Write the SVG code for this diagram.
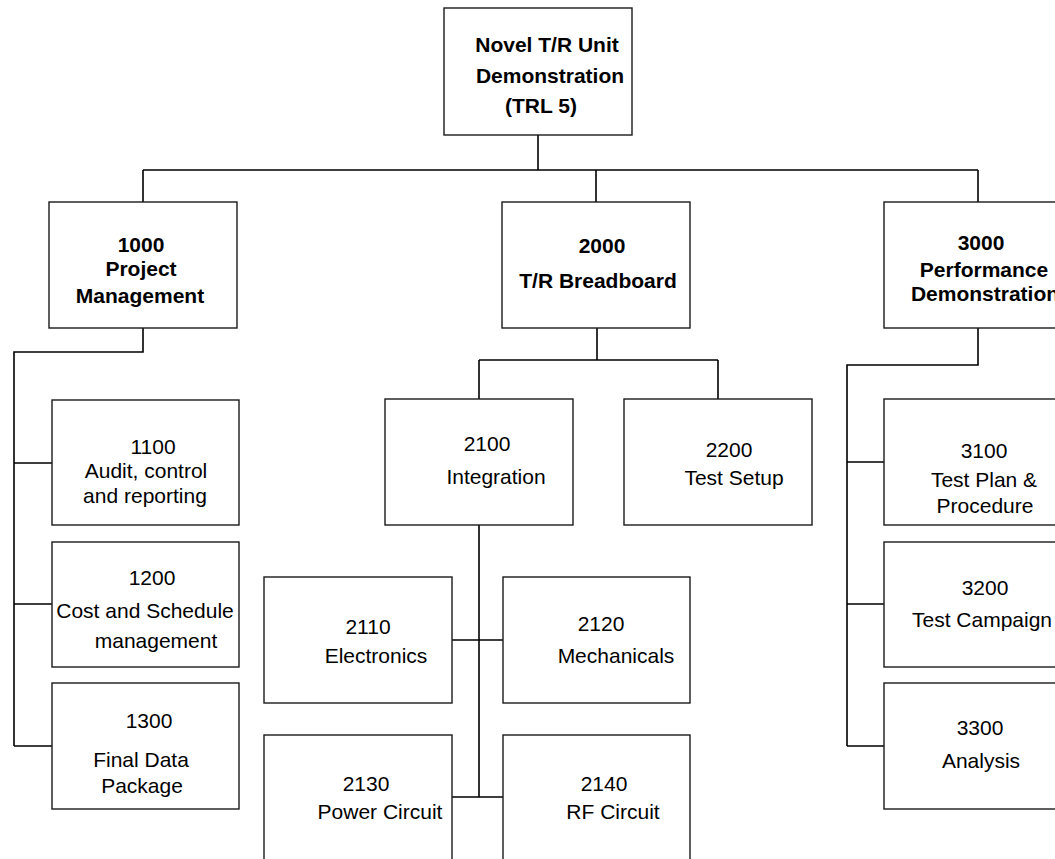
<svg xmlns="http://www.w3.org/2000/svg" width="1055" height="859" viewBox="0 0 1055 859">
<style>
.box{fill:#fff;stroke:#1a1a1a;stroke-width:1.4}
.ln{fill:none;stroke:#000;stroke-width:1.6}
text{font-family:"Liberation Sans",Arial,sans-serif;fill:#000;text-anchor:middle}
.b{font-size:21px;font-weight:bold}
.r{font-size:21px}
</style>
<rect width="1055" height="859" fill="#fff"/>
<g id="connectors">
<path class="ln" d="M538,135V170M143,170H978M143,170V202M596,170V202M978,170V202"/>
<path class="ln" d="M143,328V352H14V746M14,463H52M14,604H52M14,746H52"/>
<path class="ln" d="M597,328V360M479,360H718M479,360V400M718,360V400"/>
<path class="ln" d="M479,525V797M452,640H503M452,797H503"/>
<path class="ln" d="M978,328V365H847V746M847,462H884M847,604H884M847,746H884"/>
</g>
<g id="n0"><rect class="box" x="444" y="8" width="188" height="127"/>
<text class="b" x="547" y="52">Novel T/R Unit</text><text class="b" x="550" y="83">Demonstration</text><text class="b" x="541" y="113">(TRL 5)</text></g>
<g id="n1000"><rect class="box" x="49" y="202" width="188" height="126"/>
<text class="b" x="141" y="252">1000</text><text class="b" x="141" y="276">Project</text><text class="b" x="140" y="303">Management</text></g>
<g id="n2000"><rect class="box" x="502" y="202" width="188" height="126"/>
<text class="b" x="602" y="253">2000</text><text class="b" x="598" y="288">T/R Breadboard</text></g>
<g id="n3000"><rect class="box" x="884" y="202" width="188" height="126"/>
<text class="b" x="981" y="250">3000</text><text class="b" x="984" y="277">Performance</text><text class="b" x="985" y="301">Demonstration</text></g>
<g id="n1100"><rect class="box" x="52" y="400" width="187" height="125"/>
<text class="r" x="153" y="454">1100</text><text class="r" x="146" y="478">Audit, control</text><text class="r" x="145" y="503">and reporting</text></g>
<g id="n1200"><rect class="box" x="52" y="542" width="187" height="125"/>
<text class="r" x="152" y="585">1200</text><text class="r" x="145" y="618">Cost and Schedule</text><text class="r" x="156" y="648">management</text></g>
<g id="n1300"><rect class="box" x="52" y="683" width="187" height="126"/>
<text class="r" x="149" y="728">1300</text><text class="r" x="141" y="767">Final Data</text><text class="r" x="142" y="793">Package</text></g>
<g id="n2100"><rect class="box" x="385" y="399" width="188" height="126"/>
<text class="r" x="487" y="451">2100</text><text class="r" x="496" y="484">Integration</text></g>
<g id="n2200"><rect class="box" x="624" y="399" width="188" height="126"/>
<text class="r" x="729" y="457">2200</text><text class="r" x="734" y="485">Test Setup</text></g>
<g id="n2110"><rect class="box" x="264" y="577" width="188" height="126"/>
<text class="r" x="368" y="634">2110</text><text class="r" x="376" y="663">Electronics</text></g>
<g id="n2120"><rect class="box" x="503" y="577" width="187" height="126"/>
<text class="r" x="601" y="631">2120</text><text class="r" x="616" y="663">Mechanicals</text></g>
<g id="n2130"><rect class="box" x="264" y="735" width="188" height="140"/>
<text class="r" x="366" y="791">2130</text><text class="r" x="380" y="819">Power Circuit</text></g>
<g id="n2140"><rect class="box" x="503" y="735" width="187" height="140"/>
<text class="r" x="604" y="791">2140</text><text class="r" x="613" y="819">RF Circuit</text></g>
<g id="n3100"><rect class="box" x="884" y="399" width="188" height="126"/>
<text class="r" x="984" y="458">3100</text><text class="r" x="984" y="487">Test Plan &amp;</text><text class="r" x="985" y="513">Procedure</text></g>
<g id="n3200"><rect class="box" x="884" y="542" width="188" height="125"/>
<text class="r" x="985" y="595">3200</text><text class="r" x="982" y="627">Test Campaign</text></g>
<g id="n3300"><rect class="box" x="884" y="683" width="188" height="126"/>
<text class="r" x="980" y="735">3300</text><text class="r" x="981" y="768">Analysis</text></g>
</svg>
